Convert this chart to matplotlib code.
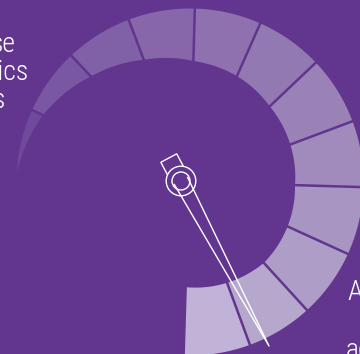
import matplotlib
matplotlib.use("Agg")
import matplotlib.pyplot as plt
import numpy as np

# gauge ring, read in pixels (centre of ring, y pointing down)
ring_center = (190.0, 182.0)
outer_r = 173.5
# segment boundaries (degrees, counter-clockwise from east) and inner radius there
bounds_deg = [176.7, 155.5, 133.2, 110.7, 88.4, 66.1, 43.5, 20.5, -1.7, -24.5, -47.6, -69.8, -91.7]
inner_r = [173.5, 161.5, 144.8, 130.6, 121.0, 115.8, 109.9, 107.0, 105.0, 107.2, 109.5, 107.4, 105.3]
seg_colors = ['#6f4a9c', '#7a57a2', '#8060a6', '#8767aa', '#8e71ae', '#9379b2',
              '#9a82b7', '#a08bbc', '#a895c2', '#ae9ec7', '#b6a8cd', '#c1b3d7']

# needle
pivot = (181.0, 181.0)
tip = (269.0, 346.0)

left_lines = ['se', 'rics', 's']
right_lines = ['A', 'ac']

bg = '#62358f'

fig = plt.figure(figsize=(3.6, 3.54), dpi=100)
fig.patch.set_facecolor(bg)
ax = fig.add_axes([0, 0, 1, 1])
ax.set_facecolor(bg)
ax.set_xlim(0, 360)
ax.set_ylim(354, 0)
ax.axis('off')

cx, cy = ring_center
for i in range(len(seg_colors)):
  th = np.radians(np.linspace(bounds_deg[i], bounds_deg[i+1], 60))
  rin = np.linspace(inner_r[i], inner_r[i+1], 60)
  xs = np.concatenate([cx + rin*np.cos(th), cx + outer_r*np.cos(th[::-1])])
  ys = np.concatenate([cy - rin*np.sin(th), cy - outer_r*np.sin(th[::-1])])
  ax.fill(xs, ys, color=seg_colors[i], lw=0)

# gaps between segments
for i in range(1, len(bounds_deg)-1):
  t = np.radians(bounds_deg[i])
  r0, r1 = inner_r[i]-3, outer_r+3
  ax.plot([cx + r0*np.cos(t), cx + r1*np.cos(t)],
          [cy - r0*np.sin(t), cy - r1*np.sin(t)], color=bg, lw=1.8, solid_capstyle='butt')

# needle
px, py = pivot
d = np.array([tip[0]-px, tip[1]-py])
u = d/np.hypot(*d)
n = np.array([-u[1], u[0]])
p = np.array(pivot)
w = 7.5
tri = np.array([p + n*w, np.array(tip), p - n*w])
ax.plot(tri[:, 0], tri[:, 1], color='white', lw=1.0)
tail = np.array([p - u*10 + n*9, p - u*26 + n*9, p - u*26 - n*9, p - u*10 - n*9, p - u*10 + n*9])
ax.fill(tail[:, 0], tail[:, 1], facecolor=bg, edgecolor='white', lw=1.0)
ax.add_patch(plt.Circle(pivot, 14.8, facecolor=bg, edgecolor='white', lw=1.0))
ax.add_patch(plt.Circle(pivot, 9.0, facecolor='none', edgecolor='white', lw=1.0))

font = ['Roboto Condensed', 'Roboto', 'DejaVu Sans']
# left block is cut by the left edge: align on the right ends
for txt, x, y in zip(left_lines, [15.5, 28.5, 5.5], [52, 80, 108]):
  ax.text(x, y, txt, color='white', fontsize=20, family=font, weight='light',
          va='baseline', ha='right')
for txt, x, y in zip(right_lines, [347, 346], [300, 358]):
  ax.text(x, y, txt, color='white', fontsize=20, family=font, weight='light',
          va='baseline', ha='left')

fig.savefig('out.png', dpi=100, facecolor=bg)
